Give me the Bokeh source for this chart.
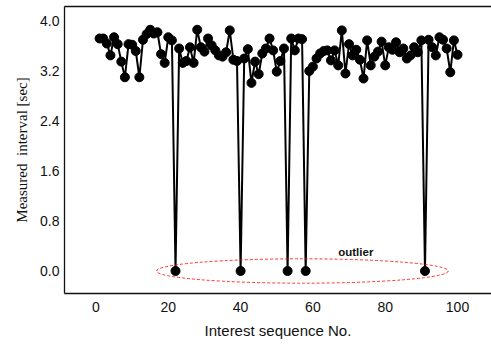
from bokeh.plotting import figure
from bokeh.models import LinearAxis, FixedTicker, Range1d, Label, CustomJSTickFormatter
from bokeh.embed import file_html
from bokeh.resources import INLINE

seq = list(range(1, 101))
interval = [
    3.72, 3.72, 3.64, 3.45, 3.74, 3.63, 3.35, 3.10, 3.63, 3.62,
    3.52, 3.10, 3.70, 3.79, 3.86, 3.80, 3.82, 3.47, 3.33, 3.74,
    3.69, 0.00, 3.56, 3.33, 3.36, 3.58, 3.33, 3.86, 3.58, 3.51,
    3.72, 3.61, 3.53, 3.45, 3.43, 3.50, 3.85, 3.38, 3.36, 0.00,
    3.40, 3.55, 3.01, 3.35, 3.15, 3.48, 3.56, 3.72, 3.53, 3.19,
    3.36, 3.56, 0.00, 3.72, 3.53, 3.72, 3.71, 0.00, 3.20, 3.27,
    3.40, 3.48, 3.52, 3.53, 3.37, 3.53, 3.29, 3.85, 3.16, 3.63,
    3.45, 3.54, 3.38, 3.08, 3.69, 3.29, 3.43, 3.51, 3.67, 3.29,
    3.58, 3.54, 3.66, 3.50, 3.56, 3.40, 3.45, 3.58, 3.50, 3.69,
    0.00, 3.70, 3.58, 3.45, 3.74, 3.70, 3.56, 3.18, 3.69, 3.46,
]
x_ticks = [0, 20, 40, 60, 80, 100]
y_ticks = [0.0, 0.8, 1.6, 2.4, 3.2, 4.0]
outlier_label = "outlier"
ellipse_center = (57.1, 0.0)
ellipse_size = (80.7, 0.39)

p = figure(width=491, height=346, output_backend="svg", toolbar_location=None,
           x_range=Range1d(-8.71, 109.4), y_range=Range1d(-0.36, 4.232),
           x_axis_location=None, y_axis_location=None,
           min_border_left=64, min_border_right=0, min_border_top=6, min_border_bottom=53)
p.background_fill_color = "white"
p.border_fill_color = "white"
p.outline_line_color = None
p.xgrid.visible = False
p.ygrid.visible = False

font = "Liberation Sans"

xa = LinearAxis(ticker=FixedTicker(ticks=x_ticks), axis_label="Interest sequence No.")
ya = LinearAxis(ticker=FixedTicker(ticks=y_ticks), axis_label="Measured\u00a0 interval [sec]")
top = LinearAxis(ticker=FixedTicker(ticks=[]))
for ax in (xa, ya, top):
    ax.major_tick_line_color = None
    ax.minor_tick_line_color = None
    ax.major_tick_out = 0
    ax.major_tick_in = 0
    ax.minor_tick_out = 0
    ax.minor_tick_in = 0
    ax.axis_line_color = "#111111"
    ax.axis_line_width = 1.3
    ax.major_label_text_font = font
    ax.major_label_text_font_size = "14px"
    ax.major_label_text_color = "#111111"
top.major_label_standoff = 0
xa.major_label_standoff = 8
ya.major_label_standoff = 5
ya.formatter = CustomJSTickFormatter(code="return tick.toFixed(1);")
xa.axis_label_text_font = font
xa.axis_label_text_font_style = "normal"
xa.axis_label_text_font_size = "15px"
xa.axis_label_text_color = "#111111"
xa.axis_label_standoff = 7
ya.axis_label_text_font = "Liberation Serif"
ya.axis_label_text_font_style = "normal"
ya.axis_label_text_font_size = "15px"
ya.axis_label_text_color = "#111111"
ya.axis_label_standoff = 7
p.add_layout(xa, "below")
p.add_layout(ya, "left")
p.add_layout(top, "above")

p.line(seq, interval, line_color="black", line_width=2)
p.scatter(seq, interval, size=9, fill_color="black", line_color="black")

p.ellipse(x=[ellipse_center[0]], y=[ellipse_center[1]], width=[ellipse_size[0]],
          height=[ellipse_size[1]], fill_color=None, line_color="red",
          line_width=0.8, line_dash="3 2")

p.add_layout(Label(x=67.0, y=0.30, text=outlier_label, text_font=font,
                   text_font_style="bold", text_font_size="11.5px",
                   text_color="#111111", text_baseline="alphabetic"))

open("out.html", "w").write(file_html(p, INLINE))
